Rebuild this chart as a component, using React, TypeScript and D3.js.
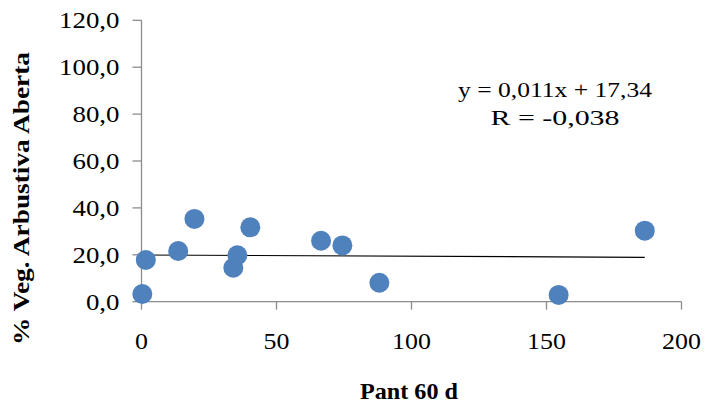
import React from "react";
import * as d3 from "d3";

// Pant 60 d (x) vs. % Veg. Arbustiva Aberta (y)
const pantValues = [0.3, 1.6, 13.6, 19.6, 34.0, 35.5, 40.3, 66.5, 74.4, 88.1, 154.5, 186.4];
const vegValues = [3.3, 17.8, 21.6, 35.3, 14.5, 19.8, 31.7, 26.0, 24.0, 8.1, 2.9, 30.3];
const xTicks = [0, 50, 100, 150, 200];
const yTicks = [0, 20, 40, 60, 80, 100, 120];
const equationLines = ["y = 0,011x + 17,34", "R = -0,038"];
const xTitle = "Pant 60 d";
const yTitle = "% Veg. Arbustiva Aberta";

const W = 707;
const H = 406;
const plot = { left: 141.5, right: 681.5, top: 20.3, bottom: 301.7 };
const axisColor = "#8c8c8c";
const dotColor = "#4f81bd";
const font = "Liberation Serif, Times New Roman, Times, serif";
const textStyle = { fontFamily: font };

const fmtY = (v: number) => v.toFixed(1).replace(".", ",");

// ordinary least-squares fit of the points
function linearFit(xs: number[], ys: number[]) {
  const mx = d3.mean(xs) as number;
  const my = d3.mean(ys) as number;
  let sxy = 0;
  let sxx = 0;
  xs.forEach((x, i) => {
    sxy += (x - mx) * (ys[i] - my);
    sxx += (x - mx) * (x - mx);
  });
  const slope = sxy / sxx;
  return { slope, intercept: my - slope * mx };
}

export default function App() {
  const x = d3.scaleLinear().domain([0, 200]).range([plot.left, plot.right]);
  const y = d3.scaleLinear().domain([0, 120]).range([plot.bottom, plot.top]);

  const points = pantValues.map((p, i) => ({ x: p, y: vegValues[i] }));
  const fit = linearFit(pantValues, vegValues);
  const xMax = d3.max(pantValues) as number;
  const trend = [0, xMax].map((v) => ({ x: v, y: fit.intercept + fit.slope * v }));
  const line = d3
    .line<{ x: number; y: number }>()
    .x((d) => x(d.x))
    .y((d) => y(d.y));

  return (
    <svg
      width={W}
      height={H}
      style={{ position: "absolute", left: 0, top: 0, background: "#fff" }}
    >
      <rect width={W} height={H} fill="#fff" />

      {/* y axis */}
      <line x1={plot.left} x2={plot.left} y1={plot.top} y2={plot.bottom} stroke={axisColor} strokeWidth={1.3} />
      {yTicks.map((t) => (
        <g key={`y${t}`}>
          <line x1={plot.left - 9} x2={plot.left} y1={y(t)} y2={y(t)} stroke={axisColor} strokeWidth={1.3} />
          <text
            transform={`translate(119.5,${y(t) + 8}) scale(1.12,1)`}
            textAnchor="end"
            fontSize={24}
            fill="#000"
            style={textStyle}
          >
            {fmtY(t)}
          </text>
        </g>
      ))}

      {/* x axis */}
      <line x1={plot.left} x2={plot.right} y1={plot.bottom} y2={plot.bottom} stroke={axisColor} strokeWidth={1.3} />
      {xTicks.map((t) => (
        <g key={`x${t}`}>
          <line x1={x(t)} x2={x(t)} y1={plot.bottom} y2={plot.bottom + 8} stroke={axisColor} strokeWidth={1.3} />
          <text
            transform={`translate(${x(t)},349) scale(1.08,1)`}
            textAnchor="middle"
            fontSize={24}
            fill="#000"
            style={textStyle}
          >
            {t}
          </text>
        </g>
      ))}

      {/* trend line */}
      <path d={line(trend) || ""} fill="none" stroke="#000" strokeWidth={1.2} />

      {/* points */}
      {points.map((p, i) => (
        <circle key={i} cx={x(p.x)} cy={y(p.y)} r={10} fill={dotColor} />
      ))}

      {/* regression equation */}
      {equationLines.map((s, i) => (
        <text
          key={s}
          x={555}
          y={97 + i * 28}
          textAnchor="middle"
          fontSize={21}
          textLength={i === 0 ? 194 : 129}
          lengthAdjust="spacingAndGlyphs"
          fill="#000"
          style={textStyle}
        >
          {s}
        </text>
      ))}

      {/* axis titles */}
      <text
        x={409}
        y={399}
        textAnchor="middle"
        fontSize={23}
        fontWeight="bold"
        textLength={98}
        lengthAdjust="spacingAndGlyphs"
        fill="#000"
        style={textStyle}
      >
        {xTitle}
      </text>
      <text
        transform="translate(29,198.5) rotate(-90)"
        textAnchor="middle"
        fontSize={23}
        fontWeight="bold"
        textLength={293}
        lengthAdjust="spacingAndGlyphs"
        fill="#000"
        style={textStyle}
      >
        {yTitle}
      </text>
    </svg>
  );
}
